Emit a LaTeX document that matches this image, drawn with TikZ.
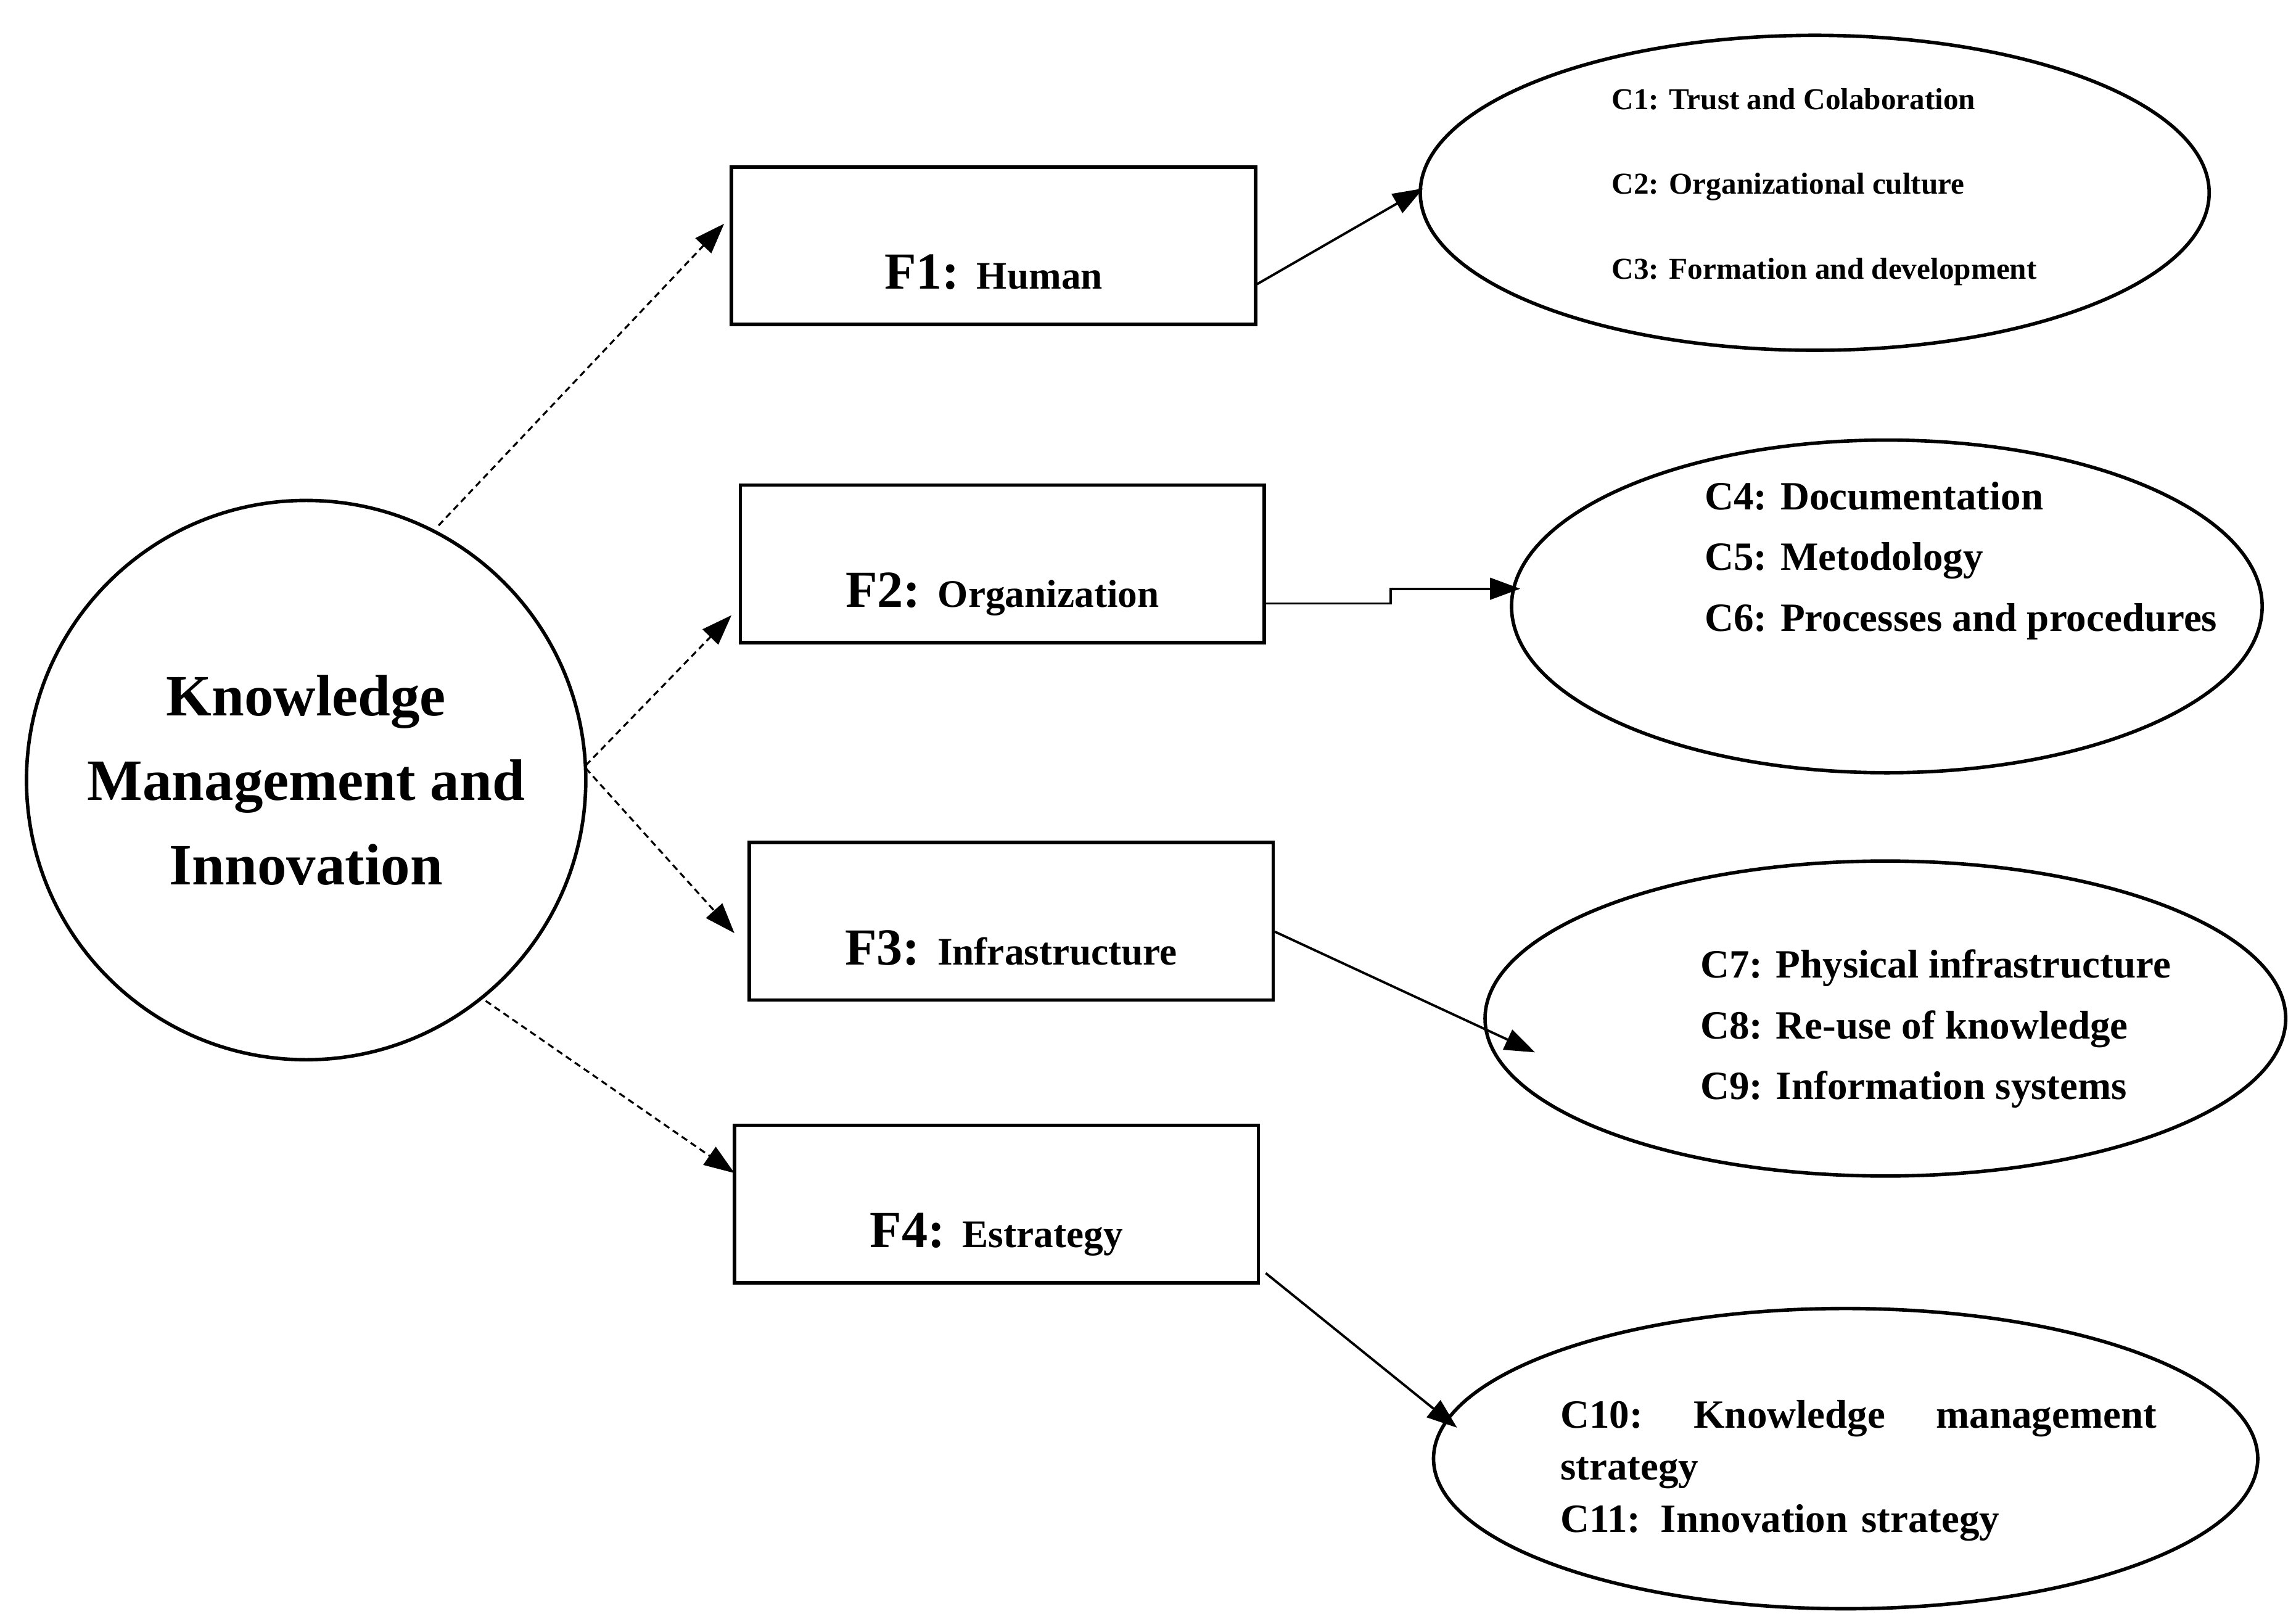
\documentclass[tikz,border=0pt]{standalone}
\usepackage{fontspec}
\setmainfont{Liberation Serif}
\usetikzlibrary{arrows.meta}
\begin{document}
\begin{tikzpicture}[x=0.02387cm,y=-0.02387cm,
 box/.style={draw,line width=1.6pt,minimum width=356*0.02387cm,minimum height=107*0.02387cm,font=\bfseries,inner sep=0pt},
 dsh/.style={-{Triangle[length=14pt,width=10pt]},dash pattern=on 3pt off 2pt,line width=0.9pt},
 sol/.style={-{Triangle[length=14pt,width=10pt]},line width=1.1pt},
 el/.style={draw,line width=1.6pt}]
\useasboundingbox (0,0) rectangle (1560,1101.6);
\node[circle,draw,line width=1.6pt,minimum size=380*0.02387cm,align=center,font=\bfseries\fontsize{27}{39}\selectfont] (K) at (208,530) {Knowledge\\Management and\\Innovation};
\node[box] (F1) at (675,167) {\raisebox{-20pt}[0pt][0pt]{\fontsize{24}{26}\selectfont F1: \fontsize{18}{20}\selectfont Human}};
\node[box] (F2) at (681,383) {\raisebox{-20pt}[0pt][0pt]{\fontsize{24}{26}\selectfont F2: \fontsize{18}{20}\selectfont Organization}};
\node[box] (F3) at (687,626) {\raisebox{-20pt}[0pt][0pt]{\fontsize{24}{26}\selectfont F3: \fontsize{18}{20}\selectfont Infrastructure}};
\node[box] (F4) at (677,818) {\raisebox{-20pt}[0pt][0pt]{\fontsize{24}{26}\selectfont F4: \fontsize{18}{20}\selectfont Estrategy}};
\draw[el] (1233,131) ellipse (268 and 107);
\draw[el] (1282,412) ellipse (255 and 113);
\draw[el] (1281,692) ellipse (272 and 107);
\draw[el] (1254,991) ellipse (280 and 102);
\node[anchor=west,align=left,font=\bfseries\fontsize{14}{39}\selectfont] (T1) at (1090,127) {C1: Trust and Colaboration\\C2: Organizational culture\\C3: Formation and development};
\node[anchor=north west,align=left,font=\bfseries\fontsize{18.5}{28}\selectfont,inner sep=0pt] (T2) at (1158,327) {C4: Documentation\\C5: Metodology\\C6: Processes and procedures};
\node[anchor=north west,align=left,font=\bfseries\fontsize{18.5}{28}\selectfont,inner sep=0pt] (T3) at (1155,645) {C7: Physical infrastructure\\C8: Re-use of knowledge\\C9: Information systems};
\node[anchor=north west,align=left,font=\bfseries\fontsize{18.5}{24}\selectfont,inner sep=0pt,text width=405*0.02387cm] (T4) at (1060,951) {C10:\hfill Knowledge\hfill management\\strategy\\C11: Innovation strategy};
\coordinate (a1) at (298,357); \coordinate (b1) at (492,152);
\coordinate (a2) at (398,520); \coordinate (b2) at (497,418);
\coordinate (a3) at (398,522); \coordinate (b3) at (499,634);
\coordinate (a4) at (330,680); \coordinate (b4) at (499,797);
\draw[dsh] (a1) -- (b1);
\draw[dsh] (a2) -- (b2);
\draw[dsh] (a3) -- (b3);
\draw[dsh] (a4) -- (b4);
\coordinate (e1) at (967,128); \coordinate (e2) at (1033,400);
\coordinate (e3) at (1043,715); \coordinate (e4) at (990,970);
\draw[sol] (F1.east |- 0,193) -- (e1);
\draw[sol] (F2.east |- 0,410) -- (945,410) -- (945,400) -- (e2);
\draw[sol] (F3.east |- 0,633) -- (e3);
\draw[sol] (860,865) -- (e4);
\end{tikzpicture}
\end{document}
